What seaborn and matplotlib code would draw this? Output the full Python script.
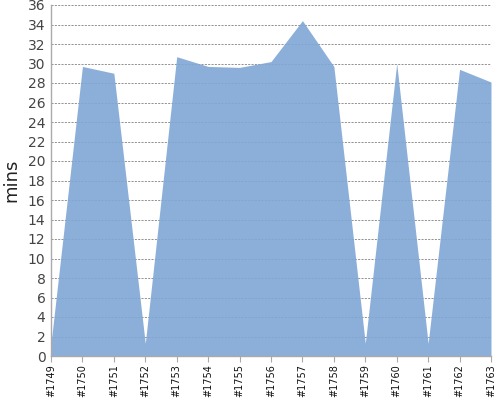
import numpy as np
import pandas as pd
import matplotlib
matplotlib.use('Agg')
import matplotlib.pyplot as plt
import seaborn as sns

# data
builds = ['#1749', '#1750', '#1751', '#1752', '#1753', '#1754', '#1755', '#1756',
          '#1757', '#1758', '#1759', '#1760', '#1761', '#1762', '#1763']
durations = [1.3, 29.7, 29.0, 1.3, 30.7, 29.7, 29.6, 30.2,
             34.4, 29.7, 1.3, 30.0, 1.3, 29.4, 28.1]
y_ticks = list(range(0, 37, 2))

sns.set_style('white')
plt.rcParams['font.family'] = ['DejaVu Sans']

df = pd.DataFrame({'build': builds, 'mins': durations})
df['pos'] = range(len(df))

fig = plt.figure(figsize=(5, 4), dpi=100)
ax = fig.add_axes([0.102, 0.11, 0.88, 0.8775])

# line kept invisible, fill does the work
sns.lineplot(data=df, x='pos', y='mins', ax=ax, color='#8db0d9', linewidth=0, zorder=2)
ax.fill_between(df['pos'], df['mins'], color='#80a7d5', alpha=0.9, linewidth=0, zorder=2)

ax.set_xlim(0, len(df) - 1)
ax.set_ylim(0, 36)
ax.set_yticks(y_ticks)
ax.set_xticks(df['pos'])
ax.set_xticklabels(df['build'], rotation=90, fontsize=7, color='#111111')
ax.tick_params(axis='y', labelsize=10, colors='#444444', length=0, pad=4)
ax.tick_params(axis='x', length=4, color='#aaaaaa', pad=2, bottom=True)
ax.set_xlabel('')
ax.set_ylabel('mins', fontsize=13, color='#222222', labelpad=5)

ax.grid(axis='y', color='#808080', linestyle=(0, (2.5, 1.5)), linewidth=0.6, zorder=1)
ax.set_axisbelow(True)
for side in ['top', 'right']:
    ax.spines[side].set_visible(False)
for side in ['left', 'bottom']:
    ax.spines[side].set_color('#aaaaaa')
    ax.spines[side].set_linewidth(1)

fig.savefig('out.png', dpi=100)
